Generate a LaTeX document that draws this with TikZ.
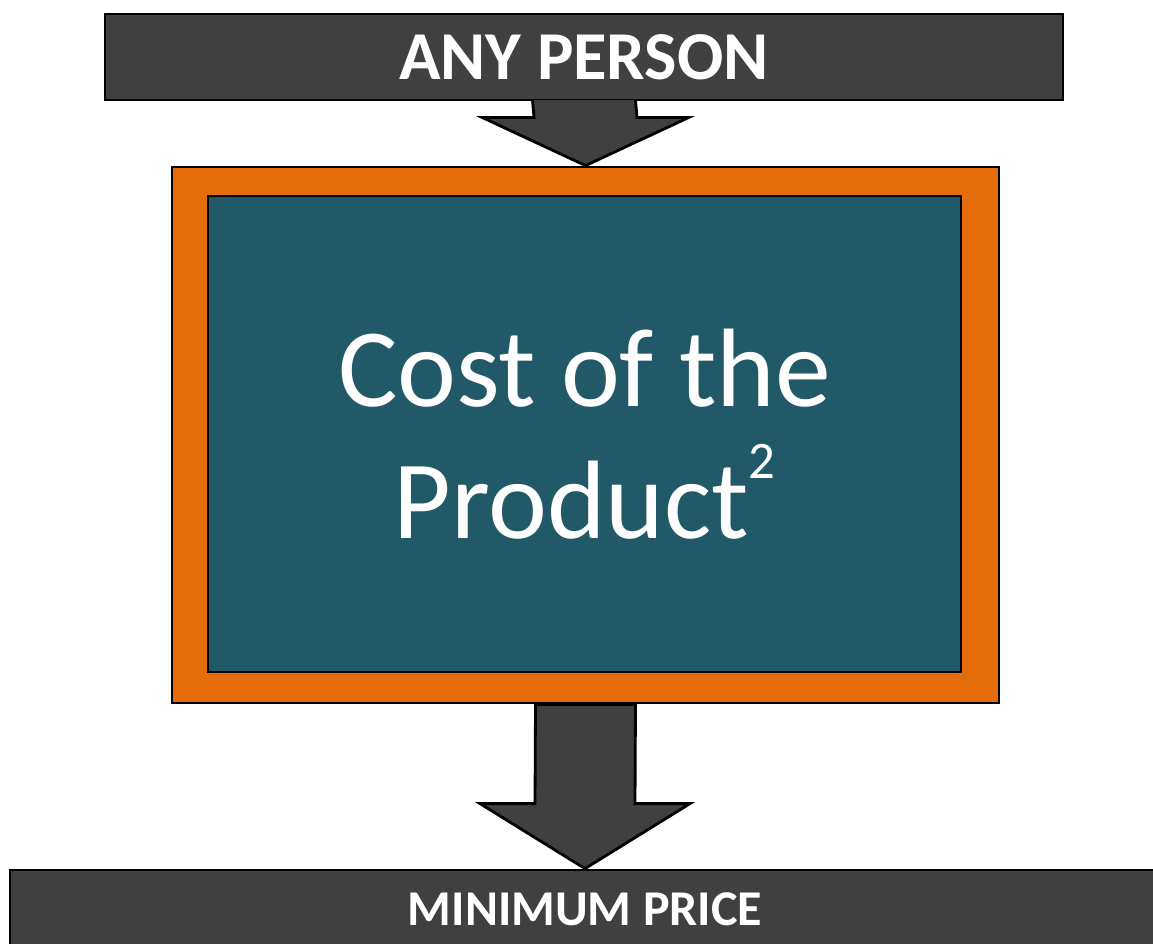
\documentclass[tikz,border=0pt]{standalone}
\usepackage{fontspec}
\setmainfont{Carlito}
\usetikzlibrary{calc}
\definecolor{bargray}{HTML}{404040}
\definecolor{frameorange}{HTML}{E46C0A}
\definecolor{darkteal}{HTML}{215968}

\begin{document}
\begin{tikzpicture}[line width=1.6pt, line join=miter,
  bar/.style={draw=black, fill=bargray, text=white, inner sep=0pt},
  outerbox/.style={draw=black, fill=frameorange, minimum width=16.54cm, minimum height=10.72cm},
  innerbox/.style={draw=black, fill=darkteal, text=white, align=center, inner sep=0pt,
    minimum width=15.06cm, minimum height=9.52cm},
  blockarrow/.style={draw=black, fill=bargray}]
\useasboundingbox (0,0) rectangle (23.06,-18.88);
\clip (0,0) rectangle (23.06,-18.88);

\node[bar, minimum width=19.16cm, minimum height=1.72cm,
  font=\bfseries\fontsize{39}{46}\selectfont] (person) at (11.68,-1.14) {ANY PERSON};
\node[outerbox] (cost) at (11.71,-8.70) {};
\node[innerbox, font=\fontsize{63.5}{74.8}\selectfont] (costtext) at (11.69,-8.68)
  {Cost of the\\Product\raisebox{34pt}{\fontsize{30}{30}\selectfont 2}};
\node[bar, minimum width=23cm, minimum height=1.56cm,
  font=\bfseries\fontsize{28.5}{34}\selectfont] (price) at (11.7,-18.18) {MINIMUM PRICE};

% open at the top so the shaft runs into the bar
\filldraw[blockarrow] ($(person.south)+(1.03,0.03)$) -- ($(cost.north)+(1.03,0.96)$)
  -- ++(1.03,0) -- (cost.north) -- ++(-2.06,0.96) -- ++(1.03,0)
  -- ($(person.south)+(-1.03,0.03)$);
\draw[blockarrow] ($(cost.south)+(-1,0)$) -- ($(price.north)+(-1,1.3)$)
  -- ++(-1.1,0) -- (price.north) -- ++(2.1,1.3) -- ++(-1.1,0)
  -- ($(cost.south)+(1,0)$) -- cycle;
\end{tikzpicture}
\end{document}
